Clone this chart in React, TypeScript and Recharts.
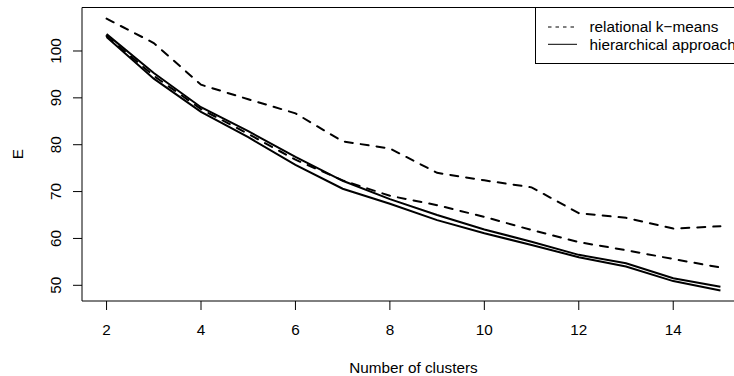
import { LineChart, Line, XAxis, YAxis, ReferenceArea } from 'recharts';

// number of clusters
const clusters = [2, 3, 4, 5, 6, 7, 8, 9, 10, 11, 12, 13, 14, 15];

// relational k-means (dashed, two runs)
const kmeansHigh = [106.9, 101.7, 92.8, 89.7, 86.7, 80.7, 79.2, 74.0, 72.4, 70.9, 65.4, 64.4, 62.1, 62.6];
const kmeansLow = [103.2, 94.7, 87.6, 82.3, 76.8, 72.4, 69.1, 67.1, 64.6, 61.8, 59.2, 57.5, 55.6, 53.8];

// hierarchical approach (solid, two runs)
const hierHigh = [103.6, 95.3, 88.0, 82.9, 77.4, 72.3, 68.4, 65.0, 61.9, 59.3, 56.5, 54.7, 51.5, 49.7];
const hierLow = [103.0, 94.1, 87.0, 81.6, 75.7, 70.6, 67.4, 63.9, 61.1, 58.6, 56.0, 54.0, 50.9, 48.9];

const xTicks = [2, 4, 6, 8, 10, 12, 14];
const yTicks = [50, 60, 70, 80, 90, 100];
const xDomain: [number, number] = [1.48, 15.52];
const yDomain: [number, number] = [46.65, 109.28];

const legendItems = [
  { label: 'relational k\u2212means', dash: '3.5 4' },
  { label: 'hierarchical approach', dash: undefined },
];

const FONT = '"Liberation Sans", Arial, Helvetica, sans-serif';
const FS = 15.3;

const chartData = clusters.map((k, i) => ({
  k,
  kmHigh: kmeansHigh[i],
  kmLow: kmeansLow[i],
  hHigh: hierHigh[i],
  hLow: hierLow[i],
}));

const XTick = ({ x, y, payload }: any) => (
  <text x={x} y={y + 25.3} textAnchor="middle" fontSize={FS} fontFamily={FONT} fill="#000">
    {payload.value}
  </text>
);

const YTick = ({ x, y, payload }: any) => (
  <text
    transform={`translate(${x - 12.5}, ${y}) rotate(-90)`}
    textAnchor="middle"
    fontSize={FS}
    fontFamily={FONT}
    fill="#000"
  >
    {payload.value}
  </text>
);

const XTitle = ({ viewBox }: any) => {
  const vb = viewBox || { x: 82, y: 301, width: 663 };
  return (
    <text x={vb.x + vb.width / 2} y={vb.y + 71.5} textAnchor="middle" fontSize={FS} fontFamily={FONT} fill="#000">
      Number of clusters
    </text>
  );
};

const YTitle = ({ viewBox }: any) => {
  const vb = viewBox || { x: 0, y: 7.5, height: 293.5 };
  const cy = vb.y + vb.height / 2;
  return (
    <text transform={`translate(23.4, ${cy}) rotate(-90)`} textAnchor="middle" fontSize={FS} fontFamily={FONT} fill="#000">
      E
    </text>
  );
};

const App = () => {
  return (
    <div style={{ position: 'fixed', left: 0, top: 0, width: 734, height: 376, overflow: 'hidden', background: '#fff' }}>
      <LineChart width={760} height={376} data={chartData} margin={{ top: 7.5, right: 15, bottom: 0, left: 0 }}>
        <XAxis
          dataKey="k"
          type="number"
          domain={xDomain}
          ticks={xTicks}
          allowDataOverflow
          height={75}
          tickSize={9}
          tickMargin={0}
          axisLine={false}
          tickLine={{ stroke: '#000' }}
          tick={<XTick />}
          label={<XTitle />}
        />
        <YAxis
          type="number"
          domain={yDomain}
          ticks={yTicks}
          allowDataOverflow
          width={82}
          tickSize={9}
          tickMargin={0}
          axisLine={false}
          tickLine={{ stroke: '#000' }}
          tick={<YTick />}
          label={<YTitle />}
        />
        <ReferenceArea x1={xDomain[0]} x2={xDomain[1]} y1={yDomain[0]} y2={yDomain[1]} fill="none" stroke="#000" strokeWidth={1} />
        <Line type="linear" dataKey="kmHigh" stroke="#000" strokeWidth={2} strokeDasharray="8 8" strokeLinecap="round" dot={false} isAnimationActive={false} />
        <Line type="linear" dataKey="kmLow" stroke="#000" strokeWidth={2} strokeDasharray="8 8" strokeLinecap="round" dot={false} isAnimationActive={false} />
        <Line type="linear" dataKey="hHigh" stroke="#000" strokeWidth={2} dot={false} isAnimationActive={false} />
        <Line type="linear" dataKey="hLow" stroke="#000" strokeWidth={2} dot={false} isAnimationActive={false} />
      </LineChart>
      {/* legend box, drawn like R's legend() at the top right */}
      <svg width={734} height={376} style={{ position: 'absolute', left: 0, top: 0, pointerEvents: 'none' }}>
        <rect x={535.5} y={7.5} width={260} height={56} fill="#fff" stroke="#000" strokeWidth={1} />
        {legendItems.map((item, i) => (
          <g key={item.label}>
            <line x1={548} x2={577} y1={27 + i * 17.3} y2={27 + i * 17.3} stroke="#000" strokeWidth={1} strokeDasharray={item.dash} />
            <text x={589.5} y={32.3 + i * 17.3} fontSize={FS} fontFamily={FONT} fill="#000">
              {item.label}
            </text>
          </g>
        ))}
      </svg>
    </div>
  );
};

export default App;
